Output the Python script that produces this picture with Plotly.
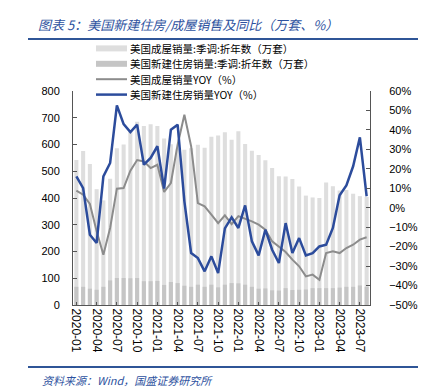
import plotly.graph_objects as go

months = [
    "2020-01","2020-02","2020-03","2020-04","2020-05","2020-06","2020-07","2020-08","2020-09","2020-10","2020-11","2020-12",
    "2021-01","2021-02","2021-03","2021-04","2021-05","2021-06","2021-07","2021-08","2021-09","2021-10","2021-11","2021-12",
    "2022-01","2022-02","2022-03","2022-04","2022-05","2022-06","2022-07","2022-08","2022-09","2022-10","2022-11","2022-12",
    "2023-01","2023-02","2023-03","2023-04","2023-05","2023-06","2023-07","2023-08",
]
tick_labels = ["2020-01","2020-04","2020-07","2020-10","2021-01","2021-04","2021-07","2021-10",
               "2022-01","2022-04","2022-07","2022-10","2023-01","2023-04","2023-07"]

existing_sales = [542, 576, 527, 433, 391, 472, 586, 600, 654, 685, 669, 676,
                  669, 622, 601, 585, 580, 586, 599, 588, 629, 634, 646, 618,
                  650, 602, 577, 561, 541, 512, 481, 480, 471, 443, 409, 402,
                  400, 458, 444, 428, 430, 416, 407, 404]
new_sales = [68, 68, 61, 57, 68, 92, 101, 101, 100, 101, 89, 89,
             90, 75, 86, 82, 72, 68, 76, 68, 76, 66, 76, 82,
             81, 76, 68, 61, 62, 55, 54, 63, 56, 57, 58, 63,
             63, 63, 63, 65, 68, 68, 73, 68]
existing_yoy = [8.8, 6.7, 1.9, -12.1, -24.2, -10.4, 9.8, 10.1, 19.0, 24.5, 23.8, 20.4,
                22.1, 8.1, 12.7, 32.4, 47.8, 31.6, 2.4, 0.7, -3.6, -7.9, -3.9, -8.4,
                -4.3, -5.5, -7.0, -8.7, -11.3, -17.3, -19.9, -22.8, -26.7, -30.1, -35.3, -34.4,
                -37.0, -23.3, -22.4, -23.3, -20.7, -19.0, -16.4, -15.2]
new_yoy = [16.1, 10.1, -13.9, -18.1, 16.1, 23.0, 52.6, 43.0, 38.9, 42.7, 22.1, 25.6,
           31.6, 9.8, 40.1, 42.7, 3.3, -23.3, -25.9, -32.7, -25.0, -33.6, -10.6, -4.9,
           -10.4, 1.2, -17.3, -24.5, -11.3, -21.6, -28.4, -7.9, -23.3, -15.6, -24.5, -23.3,
           -19.9, -19.0, -10.4, 6.4, 11.5, 21.3, 36.2, 5.9]

names = ["美国成屋销量:季调:折年数（万套）", "美国新建住房销量:季调:折年数（万套）",
         "美国成屋销量YOY（%）", "美国新建住房销量YOY（%）"]
colors = ["#DEDEDE", "#C5C5C5", "#8C8C8C", "#2C4C9C"]

fig = go.Figure()
fig.add_trace(go.Bar(x=months, y=existing_sales, name=names[0], marker_color=colors[0],
                     marker_line_width=0, width=0.6))
fig.add_trace(go.Bar(x=months, y=new_sales, name=names[1], marker_color=colors[1],
                     marker_line_width=0, width=0.6))
fig.add_trace(go.Scatter(x=months, y=existing_yoy, name=names[2], mode="lines",
                         line=dict(color=colors[2], width=2), yaxis="y2"))
fig.add_trace(go.Scatter(x=months, y=new_yoy, name=names[3], mode="lines",
                         line=dict(color=colors[3], width=2.5), yaxis="y2"))

L, R, T, B = 65, 64, 83, 92
W, H = 426, 389
pw, ph = W - L - R, H - T - B

def px(x):
    return (x - L) / pw

def py(y):
    return (H - B - y) / ph

tick_font = dict(family="Liberation Sans, Arial, sans-serif", size=11, color="#000000")

# manual legend: keys + labels, rows spaced so label boxes do not overlap
leg_font = 10.5
leg_step = 15.4
leg_center = 63.5
legend_rows = [leg_center + (i - 1.5) * leg_step for i in range(4)]

shapes = [
    dict(type="line", xref="paper", yref="paper", x0=px(20), x1=px(421), y0=py(31), y1=py(31),
         line=dict(color="#2F5597", width=2)),
    dict(type="line", xref="paper", yref="paper", x0=px(20), x1=px(421), y0=py(359), y1=py(359),
         line=dict(color="#2F5597", width=2)),
]
annotations = [
    dict(text="资料来源：Wind，国盛证券研究所", xref="paper", yref="paper", x=px(32), y=py(372),
         xanchor="left", yanchor="middle", showarrow=False,
         font=dict(family="Noto Sans CJK SC", size=11, color="#2E52A0", style="italic")),
]
for i, (nm, ry) in enumerate(zip(names, legend_rows)):
    if i < 2:
        shapes.append(dict(type="rect", xref="paper", yref="paper", x0=px(88), x1=px(119),
                           y0=py(ry - 3), y1=py(ry + 3), fillcolor=colors[i], line=dict(width=0)))
    else:
        shapes.append(dict(type="line", xref="paper", yref="paper", x0=px(88), x1=px(119),
                           y0=py(ry), y1=py(ry),
                           line=dict(color=colors[i], width=2 if i == 2 else 2.5)))
    annotations.append(dict(text=nm, xref="paper", yref="paper", x=px(121), y=py(ry),
                            xanchor="left", yanchor="middle", showarrow=False, borderpad=0,
                            font=dict(family="Noto Sans CJK SC", size=leg_font, color="#000")))

fig.update_layout(
    width=W, height=H,
    margin=dict(l=L, r=R, t=T, b=B, autoexpand=False),
    paper_bgcolor="white", plot_bgcolor="white",
    barmode="overlay",
    showlegend=False,
    xaxis=dict(type="category", tickmode="array", tickvals=tick_labels, ticktext=tick_labels,
               tickangle=90, tickfont=dict(family="Liberation Sans, Arial, sans-serif", size=12, color="#000"),
               showline=True, linecolor="#555555", linewidth=1, ticks="inside", ticklen=3,
               tickcolor="#555555", showgrid=False, range=[-0.5, len(months) - 0.5]),
    yaxis=dict(range=[0, 800], dtick=100, tickfont=tick_font, showline=True, linecolor="#555555",
               linewidth=1, ticks="inside", ticklen=4, tickcolor="#555555", showgrid=False,
               zeroline=False, ticklabelstandoff=10),
    yaxis2=dict(range=[-50, 60], dtick=10, ticksuffix="%", tickfont=tick_font, overlaying="y",
                side="right", showline=True, linecolor="#555555", linewidth=1, ticks="inside",
                ticklen=4, tickcolor="#555555", showgrid=False, zeroline=False, ticklabelstandoff=16),
    title=dict(text="图表 5：美国新建住房/成屋销售及同比（万套、%）", x=30 / W, xanchor="left",
               xref="container", y=1 - 17 / H, yref="container", yanchor="middle",
               font=dict(family="Noto Sans CJK SC", size=13, color="#2E52A0", style="italic")),
    shapes=shapes,
    annotations=annotations,
)

fig.write_html("out.html")
